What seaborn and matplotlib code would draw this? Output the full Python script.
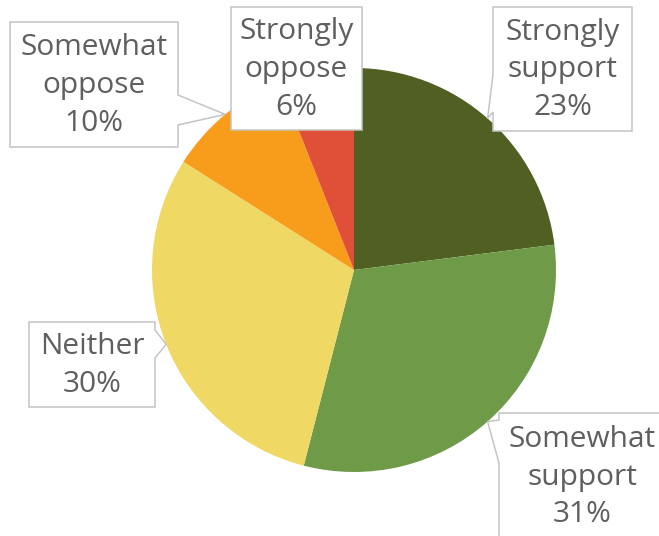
import matplotlib
matplotlib.use("Agg")
import matplotlib.pyplot as plt
import seaborn as sns
import numpy as np
from matplotlib.patches import Polygon

# Survey responses, clockwise from 12 o'clock
categories = ["Strongly support", "Somewhat support", "Neither",
              "Somewhat oppose", "Strongly oppose"]
shares = [23, 31, 30, 10, 6]
label_text = ["Strongly\nsupport", "Somewhat\nsupport", "Neither",
              "Somewhat\noppose", "Strongly\noppose"]
colors = ["#505f22", "#6f9a48", "#f0d865", "#f89c1c", "#e05038"]

sns.set_theme(style="white")
plt.rcParams["font.family"] = ["Open Sans", "DejaVu Sans"]

W, H = 659, 536
fig = plt.figure(figsize=(W / 100, H / 100), dpi=100)
ax = fig.add_axes([0, 0, 1, 1])

cx, cy, R = 354, 270, 202
wedges, _ = ax.pie(shares, colors=colors, startangle=-90, counterclock=True,
                   center=(cx, cy), radius=R,
                   wedgeprops=dict(linewidth=0))
ax.set_xlim(0, W)
ax.set_ylim(H, 0)
ax.set_aspect("equal")
ax.axis("off")

# Callout boxes: (x0, y0, x1, y1), pointer side, pointer base span
callouts = [
    ((493, 7, 632, 131), "left", (75, 112)),
    ((499, 413, 665, 539), "left", (420, 463)),
    ((29, 322, 155, 407), "right", (330, 358)),
    ((10, 22, 178, 147), "right", (95, 125)),
    ((231, 7, 362, 130), None, None),
]

for w, lab, val, (box, side, base) in zip(wedges, label_text, shares, callouts):
    x0, y0, x1, y1 = box
    mid = np.deg2rad((w.theta1 + w.theta2) / 2)
    tx = w.center[0] + w.r * np.cos(mid)
    ty = w.center[1] + w.r * np.sin(mid)
    if side == "left":
        pts = [(x0, y0), (x1, y0), (x1, y1), (x0, y1),
               (x0, base[1]), (tx, ty), (x0, base[0])]
    elif side == "right":
        pts = [(x0, y0), (x1, y0), (x1, base[0]), (tx, ty),
               (x1, base[1]), (x1, y1), (x0, y1)]
    else:
        pts = [(x0, y0), (x1, y0), (x1, y1), (x0, y1)]
    ax.add_patch(Polygon(pts, closed=True, facecolor="white",
                         edgecolor="#c4c4c4", linewidth=1.1,
                         clip_on=False, zorder=3))
    ax.text((x0 + x1) / 2, (y0 + y1) / 2 + 1, f"{lab}\n{val}%",
            ha="center", va="center", fontsize=21.5, color="#5f5f5f",
            linespacing=1.4, zorder=4)

fig.savefig("out.png", dpi=100)
